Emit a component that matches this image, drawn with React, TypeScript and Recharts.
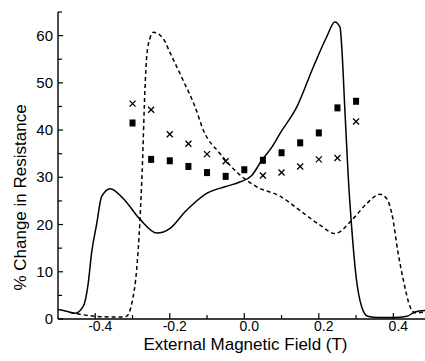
import { ComposedChart, Line, Scatter, XAxis, YAxis } from "recharts";

// solid curve (one field sweep)
const solidField = [-0.5, -0.475, -0.454, -0.432, -0.419, -0.41, -0.396, -0.383, -0.36, -0.325, -0.28, -0.235, -0.199, -0.159, -0.146, -0.101, -0.052, -0.012, 0.02, 0.047, 0.074, 0.096, 0.141, 0.185, 0.221, 0.243, 0.257, 0.261, 0.27, 0.279, 0.288, 0.3, 0.315, 0.331, 0.36, 0.4, 0.437, 0.458, 0.485];
const solidValue = [2.0, 1.6, 1.2, 2.7, 7.5, 13.9, 20.2, 25.9, 27.6, 25.5, 21.1, 18.2, 19.2, 22.7, 23.7, 26.6, 28.0, 29.0, 30.4, 33.6, 36.4, 39.3, 44.9, 53.3, 59.7, 62.9, 61.8, 58.3, 44.2, 30.1, 19.6, 9.0, 2.6, 0.6, 0.3, 0.3, 0.6, 1.5, 1.8];

// dashed curve (reverse sweep)
const dashedField = [-0.468, -0.441, -0.387, -0.334, -0.316, -0.302, -0.289, -0.28, -0.274, -0.266, -0.262, -0.253, -0.244, -0.217, -0.2, -0.164, -0.132, -0.11, -0.065, -0.016, 0.033, 0.096, 0.149, 0.203, 0.243, 0.293, 0.329, 0.364, 0.382, 0.396, 0.413, 0.427, 0.445, 0.458, 0.485];
const dashedValue = [1.4, 1.0, 0.5, 0.4, 0.6, 3.3, 10.4, 20.9, 31.5, 49.8, 55.5, 59.5, 60.7, 59.3, 56.5, 50.5, 44.9, 40.0, 35.0, 30.8, 28.0, 26.0, 23.0, 19.9, 18.1, 21.3, 24.5, 26.4, 25.5, 22.3, 13.9, 8.2, 2.6, 1.3, 1.5];

// measured points
const pointField = [-0.3, -0.25, -0.2, -0.15, -0.1, -0.05, 0, 0.05, 0.1, 0.15, 0.2, 0.25, 0.3];
const squareValue = [41.5, 33.8, 33.5, 32.3, 31.0, 30.2, 31.6, 33.6, 35.2, 37.3, 39.4, 44.7, 46.1];
const crossValue = [45.6, 44.3, 39.1, 37.1, 34.9, 33.4, null, 30.4, 31.0, 32.3, 33.8, 34.1, 41.8];

const xTicks = [-0.4, -0.3, -0.2, -0.1, 0, 0.1, 0.2, 0.3, 0.4];
const xLabelled = [-0.4, -0.2, 0, 0.2, 0.4];
const yTicks = [0, 5, 10, 15, 20, 25, 30, 35, 40, 45, 50, 55, 60, 65];
const yLabelled = [0, 10, 20, 30, 40, 50, 60];

const solidData = solidField.map((x, i) => ({ x, y: solidValue[i] }));
const dashedData = dashedField.map((x, i) => ({ x, y: dashedValue[i] }));
const squareData = pointField.map((x, i) => ({ x, y: squareValue[i] }));
const crossData = pointField
  .map((x, i) => ({ x, y: crossValue[i] }))
  .filter((d) => d.y !== null);

const FONT = "'Liberation Sans', Arial, sans-serif";

const XTick = (props: any) => {
  const { x, y, payload } = props;
  const major = xLabelled.some((v) => Math.abs(v - payload.value) < 1e-6);
  return (
    <g>
      <line x1={x} y1={y} x2={x} y2={y - (major ? 6 : 4)} stroke="#000" strokeWidth={1.2} />
      {major && (
        <text x={x + 5} y={y + 12} textAnchor="middle" fontSize={14} fontFamily={FONT} fill="#000">
          {payload.value.toFixed(1)}
        </text>
      )}
    </g>
  );
};

const YTick = (props: any) => {
  const { x, y, payload } = props;
  const major = yLabelled.includes(payload.value);
  return (
    <g>
      <line x1={x} y1={y} x2={x + (major ? 5 : 4)} y2={y} stroke="#000" strokeWidth={1.2} />
      {major && (
        <text x={x - 5} y={y + 5} textAnchor="end" fontSize={15} fontFamily={FONT} fill="#000">
          {payload.value}
        </text>
      )}
    </g>
  );
};

const YLabel = (props: any) => {
  const { viewBox } = props;
  const cx = viewBox.x + 20;
  const cy = viewBox.y + viewBox.height / 2 + 32;
  return (
    <text
      x={cx}
      y={cy}
      transform={`rotate(-90, ${cx}, ${cy})`}
      textAnchor="middle"
      dominantBaseline="central"
      fontSize={17}
      fontFamily={FONT}
      fill="#000"
    >
      % Change in Resistance
    </text>
  );
};

const Square = (props: any) => (
  <rect x={props.cx - 3} y={props.cy - 3.5} width={6} height={7} fill="#000" />
);

const Cross = (props: any) => (
  <g stroke="#000" strokeWidth={1.3}>
    <line x1={props.cx - 3} y1={props.cy - 3} x2={props.cx + 3} y2={props.cy + 3} />
    <line x1={props.cx - 3} y1={props.cy + 3} x2={props.cx + 3} y2={props.cy - 3} />
  </g>
);

export default function App() {
  return (
    <div style={{ width: 425, height: 361, background: "#fff" }}>
      <style>{"body{margin:0}"}</style>
      <ComposedChart width={425} height={361} margin={{ top: 12, right: 0, bottom: 0, left: 0 }}>
        <XAxis
          type="number"
          dataKey="x"
          domain={[-0.5, 0.485]}
          ticks={xTicks}
          interval={0}
          allowDataOverflow
          height={42}
          tickSize={0}
          tickMargin={0}
          tick={<XTick />}
          axisLine={{ stroke: "#000", strokeWidth: 1.4 }}
          label={{
            value: "External Magnetic Field (T)",
            position: "insideBottom",
            offset: 11,
            dx: 4,
            fontSize: 17,
            fontFamily: FONT,
            fill: "#000",
          }}
        />
        <YAxis
          type="number"
          dataKey="y"
          domain={[0, 65]}
          ticks={yTicks}
          interval={0}
          width={58}
          tickSize={0}
          tickMargin={0}
          tick={<YTick />}
          axisLine={{ stroke: "#000", strokeWidth: 1.4 }}
          label={<YLabel />}
        />
        <Line
          data={solidData}
          dataKey="y"
          type="monotone"
          stroke="#000"
          strokeWidth={1.5}
          dot={false}
          activeDot={false}
          isAnimationActive={false}
        />
        <Line
          data={dashedData}
          dataKey="y"
          type="monotone"
          stroke="#000"
          strokeWidth={1.5}
          strokeDasharray="4 3"
          dot={false}
          activeDot={false}
          isAnimationActive={false}
        />
        <Scatter data={squareData} dataKey="y" shape={<Square />} isAnimationActive={false} />
        <Scatter data={crossData} dataKey="y" shape={<Cross />} isAnimationActive={false} />
      </ComposedChart>
    </div>
  );
}
